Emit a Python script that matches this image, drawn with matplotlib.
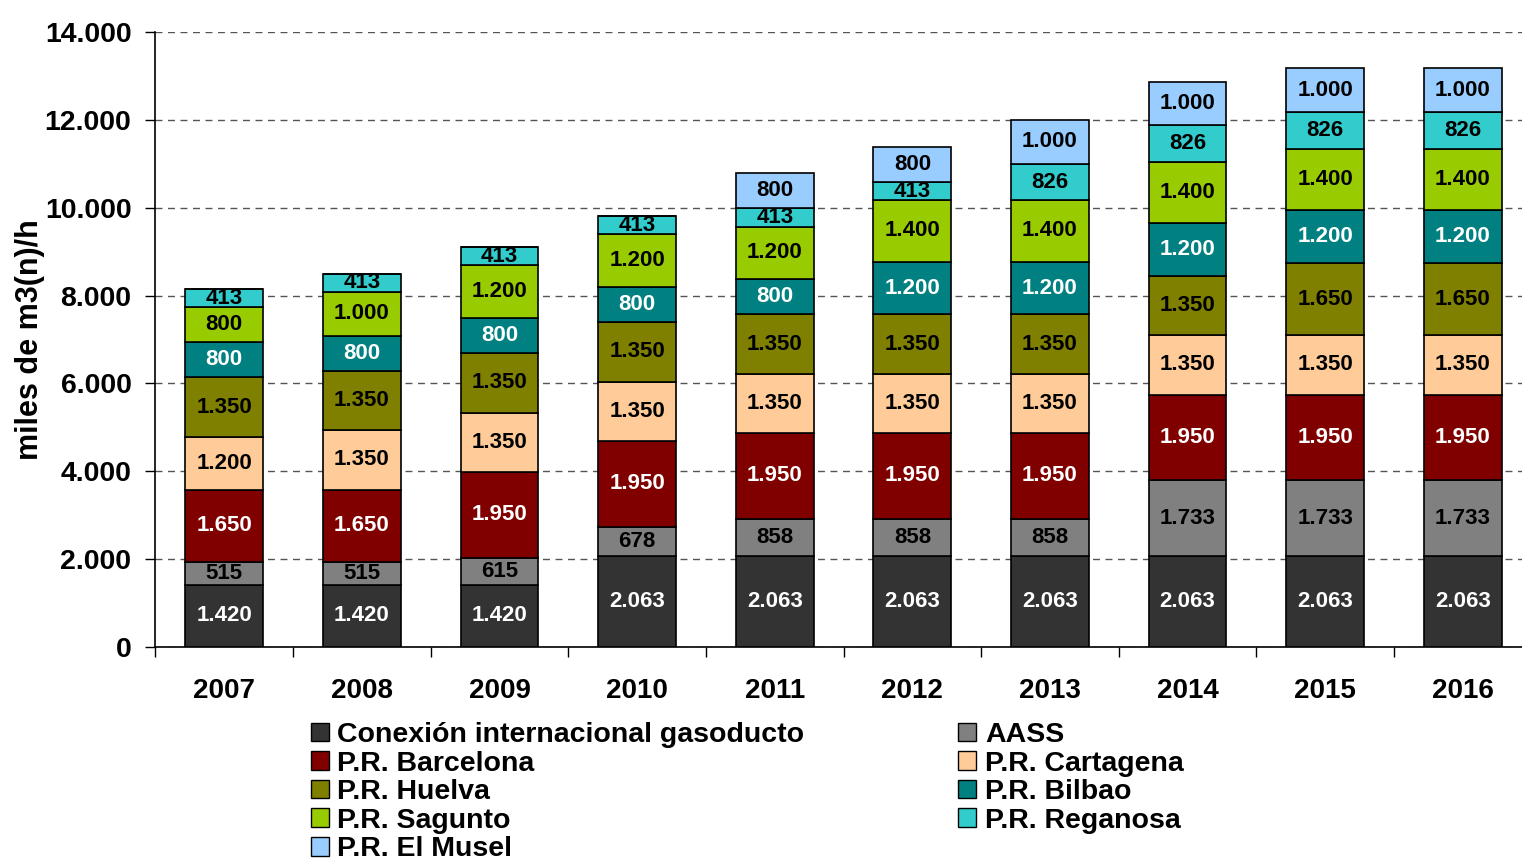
import matplotlib
matplotlib.use("Agg")
import matplotlib.pyplot as plt
import numpy as np
from matplotlib.patches import Patch

plt.rcParams['font.family'] = ['Liberation Sans', 'DejaVu Sans']
plt.rcParams['font.weight'] = 'bold'

years = ["2007", "2008", "2009", "2010", "2011", "2012", "2013", "2014", "2015", "2016"]

series_names = ["Conexión internacional gasoducto", "AASS", "P.R. Barcelona", "P.R. Cartagena",
                "P.R. Huelva", "P.R. Bilbao", "P.R. Sagunto", "P.R. Reganosa", "P.R. El Musel"]

conexion  = [1420, 1420, 1420, 2063, 2063, 2063, 2063, 2063, 2063, 2063]
aass      = [515, 515, 615, 678, 858, 858, 858, 1733, 1733, 1733]
barcelona = [1650, 1650, 1950, 1950, 1950, 1950, 1950, 1950, 1950, 1950]
cartagena = [1200, 1350, 1350, 1350, 1350, 1350, 1350, 1350, 1350, 1350]
huelva    = [1350, 1350, 1350, 1350, 1350, 1350, 1350, 1350, 1650, 1650]
bilbao    = [800, 800, 800, 800, 800, 1200, 1200, 1200, 1200, 1200]
sagunto   = [800, 1000, 1200, 1200, 1200, 1400, 1400, 1400, 1400, 1400]
reganosa  = [413, 413, 413, 413, 413, 413, 826, 826, 826, 826]
musel     = [0, 0, 0, 0, 800, 800, 1000, 1000, 1000, 1000]

series = [conexion, aass, barcelona, cartagena, huelva, bilbao, sagunto, reganosa, musel]
colors = ["#333333", "#808080", "#800000", "#FFCC99", "#808000", "#008080", "#99CC00", "#33CCCC", "#99CCFF"]
label_colors = ["white", "black", "white", "black", "black", "white", "black", "black", "black"]

y_ticks = [0, 2000, 4000, 6000, 8000, 10000, 12000, 14000]

def fmt(v):
    return f"{v:,.0f}".replace(",", ".")

fig = plt.figure(figsize=(15.22, 8.61), dpi=100)
ax = fig.add_axes([155/1522, 1-647/861, 1-155/1522, (647-32)/861])

x = np.arange(len(years))
bottom = np.zeros(len(years))
for vals, col, lc in zip(series, colors, label_colors):
    vals = np.array(vals, dtype=float)
    ax.bar(x, vals, width=0.565, bottom=bottom, color=col, edgecolor="black", linewidth=1.2, zorder=3)
    for xi, b, v in zip(x, bottom, vals):
        if v > 0:
            ax.text(xi, b + v/2, fmt(v), ha="center", va="center", color=lc,
                    fontsize=16, fontweight="bold", zorder=4)
    bottom += vals

ax.set_yticks(y_ticks)
ax.set_yticklabels([fmt(v) for v in y_ticks], fontsize=20.5, fontweight="bold")
ax.set_xticks(x)
ax.set_xticklabels(years, fontsize=20, fontweight="bold")
ax.set_xticks(np.arange(-0.5, 9.0, 1.0), minor=True)
ax.set_ylim(0, 14000)
ax.set_xlim(-0.503, 9.43)
ax.tick_params(axis="x", which="major", length=0, pad=22)
ax.tick_params(axis="x", which="minor", length=7, width=1, direction="out")
ax.tick_params(axis="y", length=7, width=1, direction="out", pad=10)
ax.yaxis.grid(True, linestyle=(0, (5, 4)), color="#555555", linewidth=1.0, zorder=0)
ax.spines["top"].set_visible(False)
ax.spines["right"].set_visible(False)
ax.spines["left"].set_linewidth(1.2)
ax.spines["bottom"].set_linewidth(1.2)
ax.set_ylabel("miles de m3(n)/h", fontsize=22, fontweight="bold", labelpad=0)

handles = [Patch(facecolor=c, edgecolor="black", linewidth=1.0) for c in colors]
order = [0, 2, 4, 6, 8, 1, 3, 5, 7]
leg = fig.legend([handles[i] for i in order], [series_names[i] for i in order],
                 ncol=2, loc="upper left", bbox_to_anchor=(311/1522, 1-722/861),
                 frameon=False, prop={"weight": "bold", "size": 20.5},
                 handlelength=0.63, handleheight=0.63, handletextpad=0.3,
                 labelspacing=0.09, columnspacing=5.4, borderpad=0, borderaxespad=0)

fig.savefig("out.png", dpi=100)
